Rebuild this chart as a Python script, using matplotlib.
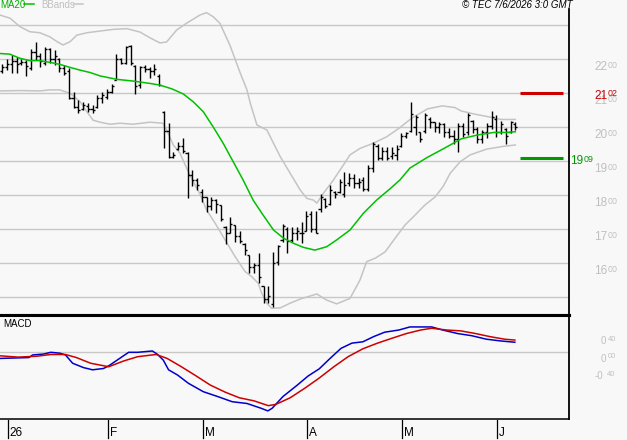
import matplotlib
matplotlib.use('Agg')
import matplotlib.pyplot as plt
import matplotlib.transforms as mtrans
import numpy as np

plt.rcParams['font.family'] = ['Liberation Sans', 'DejaVu Sans']

# ---------------- data (daily bars, index 0 = 31 Dec) ----------------
highs = [2185, 2200, 2213, 2206, 2200, 2198, 2229, 2250, 2218, 2237, 2232, 2227, 2203, 2183, 2174, 2105, 2080, 2075, 2071, 2066,
         2095, 2105, 2114, 2126, 2216, 2203, 2240, 2242, 2183, 2181, 2183, 2178, 2185, 2156, 2048, 2012, 1928, 1956, 1968, 1927,
         1875, 1850, 1819, 1796, 1794, 1788, 1772, 1710, 1735, 1713, 1696, 1659, 1625, 1602, 1631, 1533, 1533, 1633, 1654, 1716,
         1706, 1708, 1706, 1721, 1754, 1754, 1754, 1803, 1791, 1830, 1813, 1848, 1870, 1865, 1862, 1850, 1855, 1889, 1956, 1950,
         1943, 1943, 1943, 1948, 1982, 1987, 2075, 2036, 1987, 2041, 2031, 2017, 2015, 2012, 1997, 1992, 2012, 2012, 2041, 2022,
         2002, 1992, 2012, 2049, 2036, 2020, 1997, 2019, 2017]
lows = [2161, 2168, 2159, 2161, 2183, 2152, 2169, 2198, 2178, 2183, 2190, 2183, 2164, 2154, 2082, 2056, 2041, 2051, 2046, 2041,
        2056, 2071, 2082, 2100, 2139, 2185, 2185, 2183, 2097, 2116, 2164, 2146, 2154, 2122, 1940, 1909, 1909, 1933, 1924, 1793,
        1826, 1816, 1779, 1752, 1757, 1749, 1725, 1657, 1688, 1664, 1659, 1625, 1571, 1573, 1543, 1483, 1484, 1473, 1595, 1664,
        1630, 1664, 1669, 1661, 1695, 1693, 1688, 1752, 1762, 1772, 1791, 1806, 1796, 1826, 1822, 1821, 1813, 1813, 1868, 1904,
        1904, 1904, 1907, 1904, 1943, 1968, 1987, 1977, 1958, 1982, 1997, 1987, 1984, 1972, 1968, 1951, 1928, 1972, 1977, 1982,
        1955, 1953, 1968, 1994, 1972, 1980, 1950, 1982, 1992]
opens = [2165, 2178, 2185, 2195, 2188, 2192, 2175, 2222, 2210, 2190, 2230, 2200, 2200, 2175, 2165, 2085, 2060, 2055, 2062, 2055,
         2060, 2085, 2090, 2105, 2140, 2200, 2190, 2240, 2180, 2125, 2178, 2172, 2165, 2150, 2045, 1990, 1912, 1935, 1945, 1925,
         1860, 1845, 1810, 1795, 1770, 1785, 1772, 1708, 1690, 1712, 1680, 1658, 1625, 1590, 1595, 1533, 1495, 1480, 1605, 1668,
         1700, 1670, 1690, 1690, 1695, 1745, 1700, 1760, 1790, 1775, 1810, 1810, 1805, 1835, 1850, 1835, 1845, 1820, 1880, 1945,
         1910, 1930, 1915, 1920, 1945, 1975, 1990, 2000, 1985, 1990, 2025, 2015, 2000, 2010, 1985, 1975, 1965, 2005, 1985, 2020,
         1995, 1965, 1985, 2005, 2025, 1985, 1995, 1985, 2010]
closes = [2178, 2185, 2195, 2185, 2192, 2180, 2222, 2210, 2195, 2230, 2200, 2210, 2175, 2160, 2085, 2060, 2050, 2065, 2055, 2050,
          2085, 2095, 2105, 2120, 2200, 2188, 2235, 2190, 2120, 2178, 2170, 2165, 2170, 2125, 1990, 1912, 1920, 1945, 1930, 1860,
          1845, 1830, 1795, 1770, 1785, 1775, 1730, 1690, 1715, 1680, 1665, 1640, 1590, 1595, 1560, 1495, 1505, 1600, 1650, 1710,
          1665, 1690, 1695, 1690, 1740, 1700, 1690, 1795, 1770, 1815, 1805, 1840, 1830, 1850, 1835, 1840, 1820, 1880, 1950, 1910,
          1930, 1910, 1925, 1935, 1975, 1982, 2040, 2030, 1965, 2035, 2015, 2000, 2010, 1985, 1975, 1965, 2005, 1980, 2035, 1995,
          1965, 1985, 2005, 2030, 1985, 2010, 1975, 2015, 2000]

# moving average 20 (bar position -> price)
ma_pos = [-0.5, 1.6, 3.7, 5.8, 7.9, 10.0, 12.1, 14.3, 16.4, 18.5, 20.6, 24.1, 27.5, 31.1, 33.2, 35.7, 38.1, 40.2, 42.3, 44.4,
          46.5, 48.6, 50.7, 52.8, 54.9, 57.1, 59.2, 61.3, 63.4, 65.8, 68.3, 70.4, 73.2, 76.0, 78.8, 81.6, 83.7, 85.8, 89.4, 93.0,
          96.6, 99.9, 103.5, 106.3, 108.0]
ma_val = [2217, 2215, 2203, 2196, 2196, 2191, 2185, 2176, 2168, 2161, 2151, 2141, 2136, 2129, 2124, 2113, 2098, 2075, 2046, 2001,
          1953, 1899, 1845, 1786, 1742, 1698, 1674, 1659, 1647, 1639, 1649, 1669, 1698, 1747, 1786, 1819, 1845, 1880, 1911, 1938,
          1966, 1977, 1985, 1985, 1987]

# Bollinger bands
bbu_pos = [-0.5, 1.6, 3.7, 5.8, 7.9, 10.0, 11.5, 12.8, 14.3, 15.7, 17.8, 20.6, 23.4, 26.2, 29.0, 31.1, 33.2, 34.6, 36.7, 38.8,
           41.6, 43.0, 44.4, 45.8, 47.9, 50.0, 51.5, 52.2, 53.6, 55.7, 57.1, 58.5, 60.6, 62.7, 64.1, 65.5, 66.2, 67.6, 69.7, 71.8,
           73.2, 75.3, 78.1, 80.9, 83.7, 86.1, 89.5, 92.6, 95.3, 96.6, 99.7, 102.7, 105.0, 108.0]
bbu_val = [2330, 2321, 2296, 2281, 2278, 2266, 2252, 2242, 2252, 2271, 2278, 2283, 2288, 2290, 2280, 2263, 2248, 2251, 2286, 2306,
           2330, 2337, 2325, 2306, 2242, 2163, 2110, 2071, 2007, 1992, 1953, 1914, 1865, 1816, 1791, 1786, 1777, 1806, 1845, 1889,
           1919, 1938, 1953, 1972, 1999, 2026, 2054, 2063, 2058, 2048, 2038, 2030, 2023, 2023]
bbl_pos = [-0.5, 3.7, 7.9, 10.0, 12.1, 14.3, 16.4, 17.8, 19.1, 20.6, 22.7, 24.8, 27.5, 31.1, 33.8, 34.6, 36.0, 37.4, 38.8, 40.2,
           41.6, 43.0, 44.8, 46.9, 49.0, 51.1, 52.5, 53.9, 54.6, 55.7, 56.7, 58.5, 60.6, 62.7, 66.2, 68.3, 70.4, 73.2, 75.3, 76.7,
           78.5, 80.6, 82.7, 84.8, 86.9, 89.0, 91.1, 92.8, 94.3, 96.4, 98.5, 102.0, 105.5, 108.0]
bbl_val = [2107, 2108, 2107, 2110, 2110, 2100, 2075, 2046, 2021, 2015, 2009, 2012, 2009, 2015, 2012, 1992, 1948, 1924, 1880, 1840,
           1804, 1757, 1718, 1669, 1620, 1576, 1561, 1541, 1512, 1483, 1468, 1469, 1483, 1495, 1510, 1492, 1481, 1497, 1551, 1605,
           1615, 1634, 1674, 1713, 1742, 1772, 1795, 1826, 1865, 1899, 1919, 1936, 1944, 1948]

# MACD and signal
macd_pos = [-0.5, 5.6, 6.4, 8.7, 10.2, 12.1, 13.3, 14.8, 17.1, 19.0, 21.3, 22.4, 24.7, 26.6, 28.5, 31.6, 32.7, 33.9, 35.0, 36.9,
            39.2, 42.3, 45.3, 48.4, 51.5, 54.5, 55.9, 56.8, 59.1, 62.1, 64.4, 66.7, 69.0, 71.3, 73.6, 75.9, 78.2, 80.5, 83.5, 85.8,
            90.4, 92.7, 95.8, 98.8, 101.9, 104.9, 107.9]
macd_val = [-0.14, -0.12, -0.06, -0.04, 0.00, -0.02, -0.06, -0.25, -0.35, -0.40, -0.37, -0.31, -0.14, 0.00, 0.00, 0.03, -0.05,
            -0.18, -0.40, -0.52, -0.71, -0.90, -1.01, -1.13, -1.17, -1.28, -1.34, -1.28, -1.01, -0.75, -0.54, -0.38, -0.14, 0.09,
            0.21, 0.24, 0.36, 0.46, 0.51, 0.58, 0.58, 0.51, 0.43, 0.38, 0.30, 0.26, 0.23]
sig_pos = [-0.5, 3.3, 7.2, 10.2, 13.3, 15.6, 18.6, 22.4, 25.5, 28.5, 32.4, 34.7, 37.7, 40.8, 43.8, 46.9, 49.9, 53.0, 56.0, 57.6,
           60.6, 63.7, 66.7, 69.8, 72.8, 75.9, 79.0, 82.0, 85.1, 88.1, 90.4, 93.5, 96.5, 99.6, 102.6, 105.7, 107.9]
sig_val = [-0.08, -0.11, -0.09, -0.05, -0.05, -0.12, -0.25, -0.33, -0.20, -0.10, -0.05, -0.14, -0.33, -0.54, -0.75, -0.91, -1.04,
           -1.11, -1.22, -1.19, -1.04, -0.82, -0.59, -0.33, -0.10, 0.08, 0.21, 0.32, 0.43, 0.51, 0.55, 0.51, 0.49, 0.43, 0.36,
           0.30, 0.28]

month_labels = ['26', 'F', 'M', 'A', 'M', 'J']
month_first_bar = [1, 22, 42, 64, 84, 104]
grid_levels = [1500, 1600, 1700, 1800, 1900, 2000, 2100, 2200, 2300]
price_labels = [1600, 1700, 1800, 1900, 2000, 2100, 2200]
resistance = 2102
support = 1909
macd_labels = [0.40, 0.00, -0.40]

# ---------------- layout ----------------
W, H = 627, 440
fig = plt.figure(figsize=(W / 100, H / 100), dpi=100)
bg = '#f8f8f8'
fig.patch.set_facecolor(bg)


def px_rect(l, t, r, b):
    return [l / W, 1 - b / H, (r - l) / W, (b - t) / H]


ax = fig.add_axes(px_rect(0, 9, 569, 315))
axm = fig.add_axes(px_rect(0, 315, 569, 419))
XL = (-0.484, 119.3)
for a in (ax, axm):
    a.set_facecolor(bg)
    a.set_xlim(*XL)
    a.set_xticks([])
    a.set_yticks([])
ax.set_ylim(1448.2, 2347.8)
axm.set_ylim(-1.525, 0.853)

grid_c = '#c8c8c8'
for g in grid_levels:
    ax.axhline(g, color=grid_c, lw=1, zorder=1)
axm.axhline(0, color=grid_c, lw=1, zorder=1)

# spines
for s in ('top', 'left'):
    ax.spines[s].set_visible(False)
ax.spines['right'].set_linewidth(1.3)
ax.spines['bottom'].set_linewidth(2.2)
axm.spines['left'].set_visible(False)
axm.spines['top'].set_linewidth(2.2)
axm.spines['right'].set_linewidth(1.3)
axm.spines['bottom'].set_linewidth(1.1)

# Bollinger + MA
ax.plot(bbu_pos, bbu_val, color='#c4c4c4', lw=1.1, zorder=2)
ax.plot(bbl_pos, bbl_val, color='#c4c4c4', lw=1.1, zorder=2)
ax.plot(ma_pos, ma_val, color='#00c000', lw=1.1, zorder=4)

# OHLC bars
xi = np.arange(len(highs))
ax.vlines(xi, lows, highs, color='black', lw=1.0, zorder=3)
ax.hlines(opens, xi - 0.45, xi, color='black', lw=1.0, zorder=3)
ax.hlines(closes, xi, xi + 0.45, color='black', lw=1.0, zorder=3)

# support / resistance segments
ax.hlines([resistance], 108.9, 118.0, color='#cc0000', lw=2.2, zorder=4)
ax.hlines([support], 108.9, 118.0, color='#009900', lw=2.2, zorder=4)

# right-side price labels (main digits + raised decimals)
ytr = ax.get_yaxis_transform()


def split_label(a, xfrac, yval, whole, frac, color, size, dy_pts, sup_dx_px):
    t1 = mtrans.offset_copy(ytr, fig=fig, x=0, y=dy_pts, units='points')
    a.text(xfrac, yval, whole, transform=t1, ha='left', va='top', fontsize=size,
           color=color, clip_on=False)
    t2 = mtrans.offset_copy(ytr, fig=fig, x=sup_dx_px * 0.72, y=dy_pts + 0.4, units='points')
    a.text(xfrac, yval, frac, transform=t2, ha='left', va='top', fontsize=size * 0.75,
           color=color, clip_on=False)


lab_c = '#c0c0c0'
for v in price_labels:
    split_label(ax, 594 / 569, v, f"{v // 100}", f"{v % 100:02d}", lab_c, 8.5, -1.5, 13.3)
split_label(ax, 594 / 569, resistance, f"{resistance // 100}", f"{resistance % 100:02d}",
            '#cc0000', 8.5, 2.2, 13.3)
split_label(ax, 570 / 569, support, f"{support // 100}", f"{support % 100:02d}",
            '#009900', 8.5, 2.2, 13.3)

# MACD lines
axm.plot(macd_pos, macd_val, color='#0000cc', lw=1.1, zorder=3)
axm.plot(sig_pos, sig_val, color='#cc0000', lw=1.1, zorder=3)

ymtr = axm.get_yaxis_transform()
for v in macd_labels:
    s = f"{abs(v):.2f}"
    whole, frac = s.split('.')
    if v < 0:
        whole = '-' + whole
        xf = 595 / 569
    else:
        xf = 601 / 569
    t1 = mtrans.offset_copy(ymtr, fig=fig, x=0, y=-1.0, units='points')
    axm.text(xf, v, whole, transform=t1, ha='left', va='top', fontsize=7, color=lab_c, clip_on=False)
    dxp = 6.8 if v >= 0 else 12.3
    t2 = mtrans.offset_copy(ymtr, fig=fig, x=dxp * 0.72, y=-0.7, units='points')
    axm.text(xf, v, frac, transform=t2, ha='left', va='top', fontsize=5.5, color=lab_c, clip_on=False)

axm.text(3 / 569, 1 - 9 / 104, 'MACD', transform=axm.transAxes, ha='left', va='center',
         fontsize=7, color='black')

# month ticks under the MACD panel
xtr = axm.get_xaxis_transform()
for lab, b in zip(month_labels, month_first_bar):
    xp = b + 0.2
    axm.plot([xp, xp], [-1 / 104, -19 / 104], transform=xtr, color='black', lw=0.9, clip_on=False)
    axm.text(xp + 0.4, -19.5 / 104, lab, transform=xtr, ha='left', va='bottom', fontsize=8.5,
             color='black', clip_on=False)

# header legend and copyright
fig.text(0 / W, 1 - 4.5 / H, 'MA20', ha='left', va='center', fontsize=7, color='#00b000')
fig.lines.append(plt.Line2D([24 / W, 34 / W], [1 - 4.5 / H, 1 - 4.5 / H], transform=fig.transFigure,
                            color='#00c000', lw=1.1))
fig.text(41 / W, 1 - 4.5 / H, 'BBands', ha='left', va='center', fontsize=7, color='#c0c0c0')
fig.lines.append(plt.Line2D([74 / W, 83 / W], [1 - 4.5 / H, 1 - 4.5 / H], transform=fig.transFigure,
                            color='#c4c4c4', lw=1.1))
fig.text(573 / W, 1 - 4.5 / H, '\u00a9 TEC 7/6/2026 3:0 GMT', ha='right', va='center', fontsize=7,
         style='italic', color='black')

fig.savefig('out.png', dpi=100, facecolor=bg)
